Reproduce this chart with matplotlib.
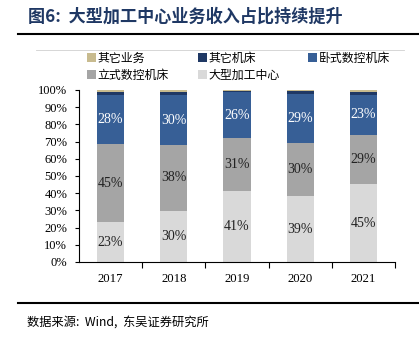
import matplotlib.pyplot as plt
import numpy as np

plt.rcParams['font.family'] = ['Liberation Serif', 'Noto Sans CJK SC']

years = ['2017', '2018', '2019', '2020', '2021']
large_center = [23.0, 29.9, 41.2, 38.3, 45.2]      # 大型加工中心
vertical_cnc = [45.5, 37.9, 30.7, 30.7, 28.9]      # 立式数控机床
horizontal_cnc = [28.5, 29.5, 26.8, 28.9, 23.1]    # 卧式数控机床
other_machine = [1.8, 1.5, 0.8, 1.3, 1.9]          # 其它机床
other_business = [1.2, 1.2, 0.5, 0.8, 0.9]        # 其它业务

labels_large = ['23%', '30%', '41%', '39%', '45%']
labels_vert = ['45%', '38%', '31%', '30%', '29%']
labels_horiz = ['28%', '30%', '26%', '29%', '23%']

c_tan = '#c8bb8f'
c_navy = '#1f3864'
c_blue = '#375f96'
c_gray = '#a5a5a5'
c_light = '#d9d9d9'

cjk = ['Noto Sans CJK SC', 'DejaVu Sans']

W, H = 419, 339
fig = plt.figure(figsize=(W / 100, H / 100), dpi=100)

# title and rules
fig.text(28 / W, 1 - 17 / H, '图6:  大型加工中心业务收入占比持续提升', fontsize=12.3,
         fontweight='bold', color='#1f3864', va='center', ha='left', family=cjk)
fig.add_artist(plt.Line2D([18 / W, 1], [1 - 33.5 / H] * 2, color='black', lw=1.5))
fig.add_artist(plt.Line2D([36 / W, 404 / W], [1 - 50 / H] * 2, color='#d0d0d0', lw=0.6))
fig.add_artist(plt.Line2D([18 / W, 1], [1 - 303 / H] * 2, color='black', lw=1.5))
fig.text(27 / W, 1 - 322 / H, '数据来源:  Wind,  东吴证券研究所', fontsize=8.8,
         va='center', ha='left', family=cjk)

ax = fig.add_axes([79 / W, 1 - 262 / H, 316 / W, 172 / H])
x = np.arange(len(years))
w = 0.43

b1 = ax.bar(x, large_center, w, color=c_light, label='大型加工中心')
bottom = np.array(large_center)
b2 = ax.bar(x, vertical_cnc, w, bottom=bottom, color=c_gray, label='立式数控机床')
bottom = bottom + vertical_cnc
b3 = ax.bar(x, horizontal_cnc, w, bottom=bottom, color=c_blue, label='卧式数控机床')
bottom = bottom + horizontal_cnc
b4 = ax.bar(x, other_machine, w, bottom=bottom, color=c_navy, label='其它机床')
bottom = bottom + other_machine
b5 = ax.bar(x, other_business, w, bottom=bottom, color=c_tan, label='其它业务')

ax.bar_label(b1, labels=labels_large, label_type='center', fontsize=10, color='#222222')
ax.bar_label(b2, labels=labels_vert, label_type='center', fontsize=10, color='#222222')
ax.bar_label(b3, labels=labels_horiz, label_type='center', fontsize=10, color='white')

ax.set_xlim(-0.5, 4.5)
ax.set_ylim(0, 100)
ax.set_yticks(np.arange(0, 101, 10))
ax.set_yticklabels([f'{v}%' for v in range(0, 101, 10)], fontsize=9)
ax.set_xticks(x)
ax.set_xticklabels(years, fontsize=9.2)
ax.set_xticks(np.arange(0.5, 5, 1), minor=True)
ax.tick_params(axis='x', which='major', length=0, pad=8)
ax.tick_params(axis='x', which='minor', length=4, direction='out', width=0.8)
ax.tick_params(axis='y', length=3, width=0.8, pad=5.5)
for s in ['top', 'right']:
    ax.spines[s].set_visible(False)
for s in ['left', 'bottom']:
    ax.spines[s].set_linewidth(0.8)

# column-major fill so rows read: 其它业务 其它机床 卧式 / 立式 大型
handles = [b5, b2, b4, b1, b3]
leg = fig.legend(handles, [h.get_label() for h in handles], ncol=3,
                 loc='upper left', bbox_to_anchor=(87 / W, 1 - 51.5 / H),
                 frameon=False, handlelength=0.75, handleheight=0.75,
                 handletextpad=0.15, columnspacing=2.4, labelspacing=0.35,
                 borderaxespad=0, borderpad=0,
                 prop={'family': cjk, 'size': 8.6})

fig.savefig('out.png', dpi=100)
